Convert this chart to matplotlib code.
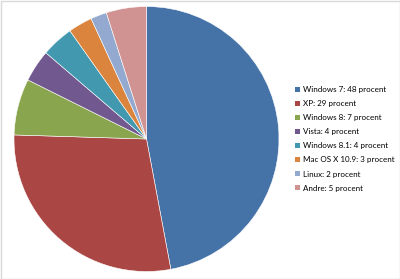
import matplotlib
matplotlib.use("Agg")
import matplotlib.pyplot as plt
from matplotlib.patches import Patch, Rectangle

labels = ["Windows 7", "XP", "Windows 8", "Vista", "Windows 8.1", "Mac OS X 10.9", "Linux", "Andre"]
values = [48, 29, 7, 4, 4, 3, 2, 5]
colors = ["#4572A7", "#AA4643", "#89A54E", "#71588F", "#4198AF", "#DB843D", "#93A9CF", "#D19392"]

plt.rcParams['font.family'] = ['Lato', 'DejaVu Sans']
W, H = 400, 279
fig = plt.figure(figsize=(W/100, H/100), dpi=100)
fig.patch.set_facecolor("white")
fig.add_artist(Rectangle((0.5/W, 0.5/H), 1-1/W, 1-1/H, transform=fig.transFigure,
                         fill=False, edgecolor="#D9D9D9", linewidth=1))

cx, cy, r = 146.5, 139, 132.5
ax = fig.add_axes([(cx - r)/W, (H - cy - r)/H, 2*r/W, 2*r/H])
ax.pie(values, colors=colors, startangle=90, counterclock=False, radius=1,
       wedgeprops=dict(linewidth=0.4, edgecolor="white"))
ax.set_xlim(-1, 1); ax.set_ylim(-1, 1)
ax.set_aspect("equal")
ax.axis("off")

handles = [Patch(facecolor=c, edgecolor="none") for c in colors]
leg_labels = [f"{l}: {v} procent" for l, v in zip(labels, values)]
fig.legend(handles, leg_labels, loc="upper left", bbox_to_anchor=(295/W, 1 - 86/H),
           frameon=False, fontsize=5.8, handlelength=0.6, handleheight=0.6,
           handletextpad=0.4, labelspacing=0.88, borderpad=0, borderaxespad=0)

fig.savefig("out.png", dpi=100)
